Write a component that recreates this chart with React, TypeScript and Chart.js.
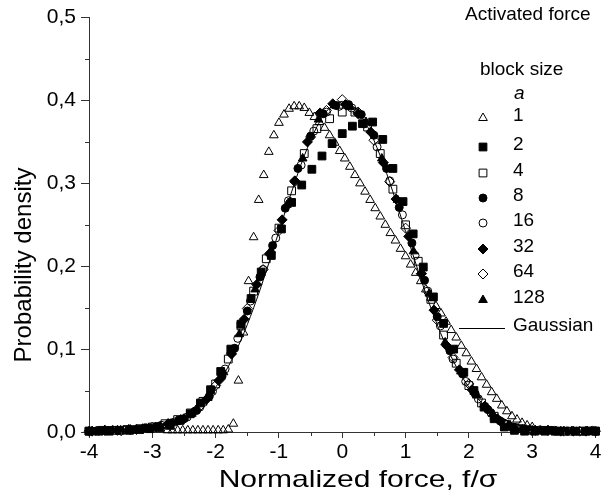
import React, { useEffect, useRef } from 'react';
import { Chart, registerables } from 'chart.js';
import { drawPoint } from 'chart.js/helpers';

Chart.register(...registerables);

// ---------------- data ----------------
const blockSizes = ['1', '2', '4', '8', '16', '32', '64', '128'];

const s1X = [-2.76, -2.68, -2.6, -2.52, -2.44, -2.36, -2.28, -2.2, -2.12, -2.04, -1.96, -1.88, -1.8, -1.72, -1.64, -1.56, -1.48, -1.4, -1.32, -1.24, -1.16, -1.08, -1.0, -0.92, -0.84, -0.76, -0.68, -0.6, -0.52, -0.44, -0.36, -0.28, -0.2, -0.12, -0.04, 0.04, 0.12, 0.2, 0.28, 0.36, 0.44, 0.52, 0.6, 0.68, 0.76, 0.84, 0.92, 1.0, 1.08, 1.16, 1.24, 1.32, 1.4, 1.48, 1.56, 1.64, 1.72, 1.8, 1.88, 1.96, 2.04, 2.12, 2.2, 2.28, 2.36, 2.44, 2.52, 2.6, 2.68, 2.76, 2.84, 2.92, 3.0];
const s1Y = [0.002, 0.002, 0.002, 0.002, 0.002, 0.002, 0.002, 0.002, 0.002, 0.002, 0.002, 0.002, 0.003, 0.01, 0.062, 0.12, 0.182, 0.235, 0.28, 0.31, 0.338, 0.358, 0.373, 0.383, 0.39, 0.393, 0.393, 0.391, 0.385, 0.38, 0.374, 0.367, 0.358, 0.349, 0.339, 0.33, 0.32, 0.31, 0.3, 0.29, 0.28, 0.27, 0.26, 0.25, 0.24, 0.231, 0.221, 0.212, 0.202, 0.192, 0.182, 0.172, 0.162, 0.152, 0.143, 0.133, 0.123, 0.114, 0.104, 0.095, 0.085, 0.076, 0.066, 0.057, 0.048, 0.04, 0.032, 0.025, 0.019, 0.015, 0.011, 0.008, 0.006];

const s2X = [-4.0, -3.84, -3.68, -3.52, -3.36, -3.2, -3.04, -2.88, -2.72, -2.56, -2.4, -2.24, -2.08, -1.92, -1.76, -1.6, -1.44, -1.28, -1.12, -0.96, -0.8, -0.64, -0.48, -0.32, -0.16, 0, 0.16, 0.32, 0.48, 0.64, 0.8, 0.96, 1.12, 1.28, 1.44, 1.6, 1.76, 1.92, 2.08, 2.24, 2.4, 2.56, 2.72, 2.88, 3.04, 3.2, 3.36, 3.52, 3.68, 3.84, 4.0];
const s2Y = [0.001, 0.001, 0.001, 0.002, 0.002, 0.003, 0.004, 0.005, 0.008, 0.014, 0.022, 0.035, 0.051, 0.073, 0.1, 0.13, 0.161, 0.193, 0.213, 0.245, 0.277, 0.298, 0.317, 0.333, 0.348, 0.36, 0.369, 0.372, 0.374, 0.353, 0.318, 0.278, 0.239, 0.199, 0.163, 0.131, 0.1, 0.072, 0.05, 0.03, 0.016, 0.006, 0.002, 0.001, 0.001, 0.001, 0.001, 0.001, 0.001, 0.001, 0.001];

const s4X = [-4, -3.8, -3.6, -3.4, -3.2, -3, -2.8, -2.6, -2.4, -2.2, -2, -1.8, -1.6, -1.4, -1.2, -1, -0.8, -0.6, -0.4, -0.2, 0, 0.2, 0.4, 0.6, 0.8, 1, 1.2, 1.4, 1.6, 1.8, 2, 2.2, 2.4, 2.6, 2.8, 3, 3.2, 3.4, 3.6, 3.8, 4];
const s4Y = [0.001, 0.002, 0.002, 0.003, 0.004, 0.006, 0.01, 0.015, 0.023, 0.037, 0.058, 0.088, 0.128, 0.17, 0.209, 0.246, 0.291, 0.336, 0.366, 0.378, 0.386, 0.386, 0.368, 0.336, 0.293, 0.25, 0.206, 0.16, 0.117, 0.083, 0.056, 0.035, 0.019, 0.009, 0.004, 0.002, 0.002, 0.001, 0.001, 0.001, 0.001];

const s8X = [-3.9, -3.7, -3.5, -3.3, -3.1, -2.9, -2.7, -2.5, -2.3, -2.1, -1.9, -1.7, -1.5, -1.3, -1.1, -0.9, -0.7, -0.5, -0.3, -0.1, 0.1, 0.3, 0.5, 0.7, 0.9, 1.1, 1.3, 1.5, 1.7, 1.9, 2.1, 2.3, 2.5, 2.7, 2.9, 3.1, 3.3, 3.5, 3.7, 3.9];
const s8Y = [0.001, 0.002, 0.002, 0.003, 0.005, 0.007, 0.011, 0.016, 0.026, 0.043, 0.067, 0.101, 0.146, 0.187, 0.225, 0.27, 0.318, 0.357, 0.384, 0.394, 0.395, 0.383, 0.358, 0.318, 0.271, 0.228, 0.183, 0.139, 0.098, 0.07, 0.046, 0.027, 0.013, 0.006, 0.003, 0.002, 0.002, 0.001, 0.001, 0.001];

const s16X = [-3.85, -3.65, -3.45, -3.25, -3.05, -2.85, -2.65, -2.45, -2.25, -2.05, -1.85, -1.65, -1.45, -1.25, -1.05, -0.85, -0.65, -0.45, -0.25, -0.05, 0.15, 0.35, 0.55, 0.75, 0.95, 1.15, 1.35, 1.55, 1.75, 1.95, 2.15, 2.35, 2.55, 2.75, 2.95, 3.15, 3.35, 3.55, 3.75, 3.95];
const s16Y = [0.001, 0.002, 0.002, 0.003, 0.005, 0.008, 0.012, 0.018, 0.03, 0.049, 0.076, 0.113, 0.158, 0.196, 0.234, 0.279, 0.322, 0.363, 0.386, 0.393, 0.391, 0.372, 0.344, 0.303, 0.262, 0.213, 0.17, 0.128, 0.088, 0.061, 0.04, 0.023, 0.011, 0.005, 0.003, 0.002, 0.002, 0.001, 0.001, 0.002];

const s32X = [-3.95, -3.75, -3.55, -3.35, -3.15, -2.95, -2.75, -2.55, -2.35, -2.15, -1.95, -1.75, -1.55, -1.35, -1.15, -0.95, -0.75, -0.55, -0.35, -0.15, 0.05, 0.25, 0.45, 0.65, 0.85, 1.05, 1.25, 1.45, 1.65, 1.85, 2.05, 2.25, 2.45, 2.65, 2.85, 3.05, 3.25, 3.45, 3.65, 3.85];
const s32Y = [0.001, 0.002, 0.002, 0.003, 0.004, 0.006, 0.01, 0.015, 0.024, 0.039, 0.062, 0.094, 0.136, 0.178, 0.215, 0.256, 0.303, 0.35, 0.385, 0.396, 0.395, 0.384, 0.362, 0.325, 0.281, 0.236, 0.191, 0.147, 0.104, 0.075, 0.051, 0.031, 0.016, 0.007, 0.003, 0.002, 0.002, 0.001, 0.001, 0.001];

const s64X = [-4, -3.75, -3.5, -3.25, -3, -2.75, -2.5, -2.25, -2, -1.75, -1.5, -1.25, -1, -0.75, -0.5, -0.25, 0, 0.25, 0.5, 0.75, 1, 1.25, 1.5, 1.75, 2, 2.25, 2.5, 2.75, 3, 3.25, 3.5, 3.75, 4];
const s64Y = [0.001, 0.002, 0.002, 0.003, 0.006, 0.01, 0.016, 0.031, 0.056, 0.095, 0.149, 0.196, 0.243, 0.302, 0.356, 0.388, 0.401, 0.386, 0.352, 0.302, 0.246, 0.191, 0.135, 0.09, 0.058, 0.031, 0.013, 0.005, 0.002, 0.002, 0.001, 0.001, 0.001];

const s128X = [-3.875, -3.625, -3.375, -3.125, -2.875, -2.625, -2.375, -2.125, -1.875, -1.625, -1.375, -1.125, -0.875, -0.625, -0.375, -0.125, 0.125, 0.375, 0.625, 0.875, 1.125, 1.375, 1.625, 1.875, 2.125, 2.375, 2.625, 2.875, 3.125, 3.375, 3.625, 3.875];
const s128Y = [0.001, 0.002, 0.003, 0.004, 0.007, 0.012, 0.022, 0.041, 0.072, 0.118, 0.172, 0.219, 0.274, 0.33, 0.377, 0.394, 0.392, 0.374, 0.33, 0.28, 0.218, 0.167, 0.108, 0.073, 0.044, 0.022, 0.008, 0.003, 0.002, 0.001, 0.001, 0.001];

const gaussX = [-4, -3.8, -3.6, -3.4, -3.2, -3, -2.8, -2.6, -2.4, -2.2, -2, -1.8, -1.6, -1.4, -1.2, -1, -0.8, -0.6, -0.4, -0.2, 0, 0.2, 0.4, 0.6, 0.8, 1, 1.2, 1.4, 1.6, 1.8, 2, 2.2, 2.4, 2.6, 2.8, 3, 3.2, 3.4, 3.6, 3.8, 4];
const gaussY = [0.0001, 0.0003, 0.0006, 0.0012, 0.0024, 0.0044, 0.0079, 0.0136, 0.0224, 0.0355, 0.054, 0.079, 0.1109, 0.1497, 0.1942, 0.242, 0.2897, 0.3332, 0.3683, 0.391, 0.3989, 0.391, 0.3683, 0.3332, 0.2897, 0.242, 0.1942, 0.1497, 0.1109, 0.079, 0.054, 0.0355, 0.0224, 0.0136, 0.0079, 0.0044, 0.0024, 0.0012, 0.0006, 0.0003, 0.0001];

const yTickLabels = ['0,0', '0,1', '0,2', '0,3', '0,4', '0,5'];
const xTickLabels = ['-4', '-3', '-2', '-1', '0', '1', '2', '3', '4'];
const xMinor = [-3.5, -2.5, -1.5, -0.5, 0.5, 1.5, 2.5, 3.5];
const yMinor = [0.05, 0.15, 0.25, 0.35, 0.45];

const xTitle = 'Normalized force, f/σ';
const yTitle = 'Probability density';
const panelTitle = 'Activated force';
const legendTitle = 'block size';
const legendSymbol = 'a';
const gaussLabel = 'Gaussian';

const seriesX = [s1X, s2X, s4X, s8X, s16X, s32X, s64X, s128X];
const seriesY = [s1Y, s2Y, s4Y, s8Y, s16Y, s32Y, s64Y, s128Y];

// ---------------- styles ----------------
const FONT = "'Liberation Sans', Arial, Helvetica, sans-serif";
const INK = '#000000';
const AXIS = '#333333';

const markers = [
  { style: 'triangle', filled: false, radius: 5 },
  { style: 'rect', filled: true, radius: 5.5 },
  { style: 'rect', filled: false, radius: 5.5 },
  { style: 'circle', filled: true, radius: 4 },
  { style: 'circle', filled: false, radius: 4 },
  { style: 'rectRot', filled: true, radius: 5 },
  { style: 'rectRot', filled: false, radius: 5 },
  { style: 'triangle', filled: true, radius: 5 },
];

const legendRowsY = [116, 145, 171, 196, 221, 247, 272, 298];

const decorPlugin = {
  id: 'decor',
  afterDraw(chart: any) {
    const { ctx, chartArea } = chart;
    const xs = chart.scales.x;
    const ys = chart.scales.y;
    ctx.save();
    // minor ticks
    ctx.strokeStyle = AXIS;
    ctx.lineWidth = 1;
    ctx.beginPath();
    for (const v of xMinor) {
      const px = Math.round(xs.getPixelForValue(v)) + 0.5;
      ctx.moveTo(px, chartArea.bottom);
      ctx.lineTo(px, chartArea.bottom + 4);
    }
    for (const v of yMinor) {
      const py = Math.round(ys.getPixelForValue(v)) + 0.5;
      ctx.moveTo(chartArea.left - 4, py);
      ctx.lineTo(chartArea.left, py);
    }
    ctx.stroke();

    ctx.fillStyle = INK;
    // axis titles
    ctx.font = `24px ${FONT}`;
    ctx.textAlign = 'center';
    ctx.textBaseline = 'middle';
    ctx.save();
    ctx.translate(358, 480);
    ctx.scale(1.25, 1);
    ctx.fillText(xTitle, 0, 0);
    ctx.restore();
    ctx.save();
    ctx.translate(24, 265);
    ctx.rotate(-Math.PI / 2);
    ctx.fillText(yTitle, 0, 0);
    ctx.restore();

    // legend
    ctx.font = `19px ${FONT}`;
    ctx.textAlign = 'left';
    ctx.fillText(panelTitle, 465, 15);
    ctx.fillText(legendTitle, 480, 70);
    ctx.font = `italic 19px ${FONT}`;
    ctx.fillText(legendSymbol, 514, 94);
    ctx.font = `19px ${FONT}`;
    blockSizes.forEach((lab, i) => {
      const y = legendRowsY[i];
      const m = markers[i];
      ctx.fillStyle = m.filled ? INK : 'rgba(0,0,0,0)';
      ctx.strokeStyle = INK;
      ctx.lineWidth = 1;
      drawPoint(ctx, { pointStyle: m.style, radius: m.radius, rotation: 0, borderWidth: 1 } as any, 483, y + 2);
      ctx.fillStyle = INK;
      ctx.fillText(lab, 513, y);
    });
    ctx.beginPath();
    ctx.moveTo(459, 328.5);
    ctx.lineTo(505, 328.5);
    ctx.stroke();
    ctx.fillText(gaussLabel, 513, 326);
    ctx.restore();
  },
};

export default function App() {
  const ref = useRef<HTMLCanvasElement>(null);
  useEffect(() => {
    const canvas = ref.current!;
    const datasets: any[] = blockSizes.map((lab, i) => ({
      label: lab,
      data: seriesX[i].map((x, j) => ({ x, y: seriesY[i][j] })),
      pointStyle: markers[i].style,
      pointRadius: markers[i].radius,
      pointHoverRadius: markers[i].radius,
      pointBorderWidth: 1,
      pointBorderColor: INK,
      pointBackgroundColor: markers[i].filled ? INK : 'rgba(0,0,0,0)',
      showLine: false,
      clip: false,
    }));
    datasets.push({
      label: gaussLabel,
      data: gaussX.map((x, j) => ({ x, y: gaussY[j] })),
      showLine: true,
      borderColor: INK,
      borderWidth: 1,
      pointRadius: 0,
      cubicInterpolationMode: 'monotone',
      fill: false,
      clip: false,
    });

    const chart = new Chart(canvas, {
      type: 'scatter',
      data: { datasets },
      options: {
        animation: false,
        responsive: true,
        maintainAspectRatio: false,
        layout: { padding: { top: 17, right: 5, left: 0, bottom: 0 } },
        plugins: { legend: { display: false }, tooltip: { enabled: false } },
        scales: {
          x: {
            type: 'linear',
            min: -4,
            max: 4,
            afterFit: (s: any) => {
              s.height = 72;
              s.paddingLeft = 0;
              s.paddingRight = 0;
            },
            afterBuildTicks: (s: any) => {
              s.ticks = xTickLabels.map((t) => ({ value: Number(t) }));
            },
            ticks: {
              callback: (_v: any, i: number) => xTickLabels[i],
              font: { family: FONT, size: 21 },
              color: INK,
              padding: 2,
              maxRotation: 0,
            },
            grid: { drawOnChartArea: false, drawTicks: true, tickLength: 6, tickColor: AXIS, color: AXIS },
            border: { display: true, color: AXIS, width: 1 },
          },
          y: {
            type: 'linear',
            min: 0,
            max: 0.5,
            afterFit: (s: any) => {
              s.width = 89;
            },
            afterBuildTicks: (s: any) => {
              s.ticks = yTickLabels.map((_t, i) => ({ value: i / 10 }));
            },
            ticks: {
              callback: (_v: any, i: number) => yTickLabels[i],
              font: { family: FONT, size: 21 },
              color: INK,
              padding: 5,
            },
            grid: { drawOnChartArea: false, drawTicks: true, tickLength: 8, tickColor: AXIS, color: AXIS },
            border: { display: true, color: AXIS, width: 1 },
          },
        },
      },
      plugins: [decorPlugin],
    } as any);
    return () => chart.destroy();
  }, []);

  return (
    <div style={{ position: 'fixed', left: 0, top: 0, width: 602, height: 504, background: '#fff' }}>
      <canvas ref={ref} />
    </div>
  );
}
